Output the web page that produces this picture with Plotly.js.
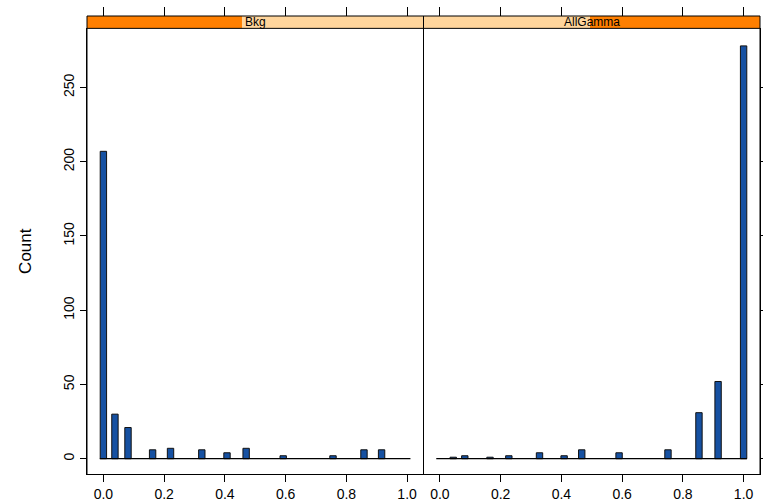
<!DOCTYPE html>
<html>
<head>
<meta charset="utf-8">
<script src="https://cdn.plot.ly/plotly-3.0.1.min.js"></script>
<style>html,body{margin:0;padding:0;background:#fff;}#chart{width:763px;height:504px;}</style>
</head>
<body>
<div id="chart"></div>
<script>
// ---- data ----
var panelNames = ["Bkg", "AllGamma"];
var bkgX = [0.0, 0.038, 0.081, 0.162, 0.221, 0.324, 0.407, 0.470, 0.592, 0.756, 0.858, 0.916];
var bkgY = [207, 30, 21, 6, 7, 6, 4, 7, 2, 2, 6, 6];
var gamX = [0.044, 0.082, 0.165, 0.227, 0.328, 0.409, 0.467, 0.590, 0.751, 0.853, 0.916, 1.0];
var gamY = [1, 2, 1, 2, 4, 2, 6, 4, 6, 31, 52, 278];
var xTickVals = [0, 0.2, 0.4, 0.6, 0.8, 1.0];
var xTickText = ["0.0", "0.2", "0.4", "0.6", "0.8", "1.0"];
var yTickVals = [0, 50, 100, 150, 200, 250];
var yTickText = ["0", "50", "100", "150", "200", "250"];
var baseSpan = [-0.012, 1.011];

var barColor = "#1651a2";
var font = "Liberation Sans, Arial, sans-serif";

function bars(x, y, xa, ya) {
  return {type: "bar", x: x, y: y, xaxis: xa, yaxis: ya, width: 0.021,
    marker: {color: barColor, line: {color: "#111", width: 1}}, hoverinfo: "x+y", showlegend: false};
}
function base(xa, ya) {
  return {type: "scatter", mode: "lines", x: baseSpan, y: [0, 0], xaxis: xa, yaxis: ya,
    line: {color: "#000", width: 1.3}, hoverinfo: "skip", showlegend: false};
}
function ghost(x, y, xa, ya) {
  return {type: "scatter", mode: "markers", x: x, y: y, xaxis: xa, yaxis: ya,
    marker: {opacity: 0, size: 1}, hoverinfo: "skip", showlegend: false};
}

var data = [bars(bkgX, bkgY, "x", "y"), base("x", "y"), bars(gamX, gamY, "x2", "y2"), base("x2", "y2"),
  ghost(bkgX, bkgY, "x3", "y"), ghost(gamX, gamY, "x4", "y2")];

var xr = [-0.054, 1.054];
var yr = [-10.3, 289.8];
var yTop = 0.973;

function xAx(dom, anchor) {
  return {domain: dom, anchor: anchor, range: xr, tickvals: xTickVals, ticktext: xTickText,
    ticks: "outside", ticklen: 7, tickcolor: "#000", tickwidth: 1, showline: true, linecolor: "#000",
    linewidth: 1, showgrid: false, zeroline: false, tickfont: {family: font, size: 14, color: "#000"}, fixedrange: true};
}
function topAx(over) {
  return {overlaying: over, side: "top", anchor: "free", position: 1, range: xr, tickvals: xTickVals,
    ticks: "outside", ticklen: 9, tickcolor: "#000", tickwidth: 1, showticklabels: false, showline: false,
    showgrid: false, zeroline: false, fixedrange: true};
}

var shapes = [];
// strips
var stripOrangeL = [0, 0.2303], stripPeachL = [0.2303, 0.5], stripPeachR = [0.5, 0.7474], stripOrangeR = [0.7474, 1];
function rect(x0, x1, col) {
  shapes.push({type: "rect", xref: "paper", yref: "paper", x0: x0, x1: x1, y0: yTop, y1: 1,
    fillcolor: col, line: {width: 0}, layer: "below"});
}
rect(stripOrangeL[0], stripOrangeL[1], "#ff7f00");
rect(stripPeachL[0], stripPeachL[1], "#ffd59c");
rect(stripPeachR[0], stripPeachR[1], "#ffd59c");
rect(stripOrangeR[0], stripOrangeR[1], "#ff7f00");
function line(x0, y0, x1, y1) {
  shapes.push({type: "line", xref: "paper", yref: "paper", x0: x0, y0: y0, x1: x1, y1: y1,
    line: {color: "#000", width: 1}});
}
line(0, 1, 1, 1);
line(0, yTop, 1, yTop);
line(0, 0, 0, 1);
line(1, 0, 1, 1);
line(0.5, 0, 0.5, 1);

var annotations = panelNames.map(function (n, i) {
  return {text: n, xref: "paper", yref: "paper", x: 0.25 + 0.5 * i, y: (yTop + 1) / 2,
    xanchor: "center", yanchor: "middle", showarrow: false, font: {family: font, size: 12, color: "#000"}};
});

var layout = {
  width: 763, height: 504,
  margin: {l: 87, r: 3, t: 16, b: 30, pad: 0},
  paper_bgcolor: "#fff", plot_bgcolor: "#fff",
  bargap: 0,
  xaxis: xAx([0, 0.5], "y"),
  xaxis2: xAx([0.5, 1], "y2"),
  xaxis3: topAx("x"),
  xaxis4: topAx("x2"),
  yaxis: {domain: [0, yTop], anchor: "x", range: yr, tickvals: yTickVals, ticktext: yTickText,
    ticks: "outside", ticklen: 6, tickcolor: "#000", tickangle: -90, showline: true, linecolor: "#000",
    showgrid: false, zeroline: false, tickfont: {family: font, size: 14, color: "#000"},
    title: {text: "Count", font: {family: font, size: 17, color: "#000"}, standoff: 25}, fixedrange: true},
  yaxis2: {domain: [0, yTop], anchor: "x2", side: "right", range: yr, tickvals: yTickVals,
    ticks: "outside", ticklen: 6, tickcolor: "#000", showticklabels: false, showline: true, linecolor: "#000",
    showgrid: false, zeroline: false, fixedrange: true},
  shapes: shapes,
  annotations: annotations
};

Plotly.newPlot("chart", data, layout, {displayModeBar: false, staticPlot: true});
</script>
</body>
</html>
